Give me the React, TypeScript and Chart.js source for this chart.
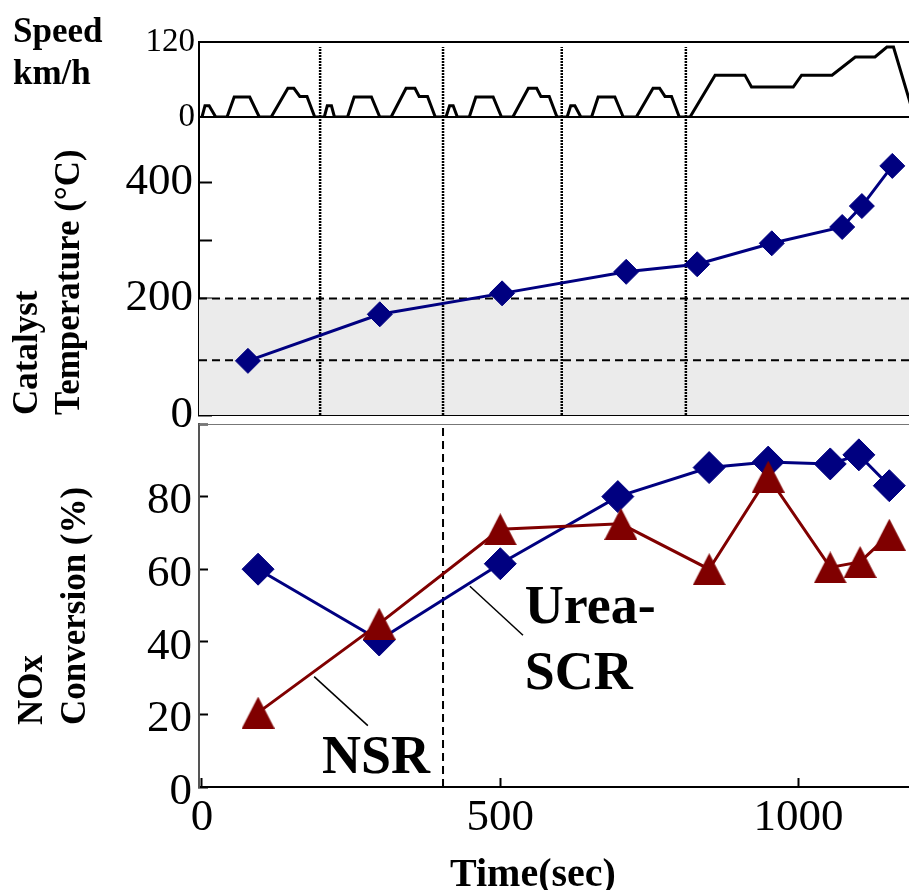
import React, { useEffect, useRef } from 'react';
import { Chart, registerables } from 'chart.js';

Chart.register(...registerables);

// ---------- data ----------
const X_MIN = -5;
const X_MAX = 1185;

// vehicle speed trace (time s, speed km/h)
const speedTime = [
  0, 5, 12, 23, 42, 54, 80, 96, 116, 144, 154, 164, 176, 189,
  205, 210, 217, 222, 244, 255, 284, 298, 317, 342, 357, 364, 378, 391,
  409, 415, 421, 428, 448, 459, 488, 502, 521, 547, 561, 568, 582, 595,
  612, 618, 625, 635, 653, 664, 692, 706, 728, 756, 767, 776, 787, 800,
  818, 860, 910, 921, 991, 1005, 1056, 1095, 1128, 1148, 1159, 1194,
];
const speedKmh = [
  0, 18, 18, 0, 0, 32, 32, 0, 0, 46, 46, 33, 33, 0,
  0, 18, 18, 0, 0, 32, 32, 0, 0, 46, 46, 33, 33, 0,
  0, 18, 18, 0, 0, 32, 32, 0, 0, 46, 46, 33, 33, 0,
  0, 18, 18, 0, 0, 32, 32, 0, 0, 46, 46, 33, 33, 0,
  0, 67, 67, 48, 48, 67, 67, 96, 96, 112, 112, 0,
];
const speedTicks = [0, 120];
const cycleBoundaries = [198, 404, 603, 811];
const boundaryTopSpeed = 112;

// catalyst temperature
const tempTime = [77, 298, 503, 711, 830, 955, 1073, 1106, 1157];
const tempC = [93, 173, 209, 246, 259, 295, 323, 359, 428];
const tempTicks = [0, 100, 200, 300, 400];
const tempLabels = [0, 200, 400];
const tempWindowUpper = 200;
const tempWindowLower = 94;

// NOx conversion
const scrTime = [94, 297, 500, 697, 850, 949, 1053, 1101, 1152];
const scrConv = [60, 40.5, 61.5, 80, 88, 89.5, 89, 91.5, 83];
const nsrTime = [94, 297, 500, 702, 850, 949, 1053, 1103, 1152];
const nsrConv = [20.5, 45, 71, 72.5, 60, 85.5, 60.5, 62, 69.5];
const noxTicks = [0, 10, 20, 30, 40, 50, 60, 70, 80, 90, 100];
const noxLabels = [0, 20, 40, 60, 80];
const timeTicks = [0, 500, 1000];
const noxDividerTime = 404;

// annotations (data coordinates of the NOx panel)
const nsrLeaderTime = [188, 278];
const nsrLeaderConv = [30.4, 16.9];
const scrLeaderTime = [449, 538];
const scrLeaderConv = [55.3, 41.8];
const annTexts = ['NSR', 'Urea-', 'SCR'];
const annTime = [201, 541, 541];
const annConv = [3.9, 45.3, 27];

// ---------- style ----------
const W = 909;
const H = 890;
const FONT = '"Liberation Serif", "Times New Roman", serif';
const NAVY = '#000080';
const MAROON = '#800000';
const AXIS_W = 199;

type TextItem = {
  text: string;
  x: number;
  y: number;
  font: string;
  rotate?: number;
  data?: boolean;
};

function makeTextPlugin(id: string, items: TextItem[]) {
  return {
    id,
    afterDraw(chart: any) {
      const ctx = chart.ctx;
      for (const it of items) {
        ctx.save();
        ctx.font = it.font;
        ctx.fillStyle = '#000';
        ctx.textAlign = 'left';
        ctx.textBaseline = 'alphabetic';
        const x = it.data ? chart.scales.x.getPixelForValue(it.x) : it.x;
        const y = it.data ? chart.scales.y.getPixelForValue(it.y) : it.y;
        ctx.translate(x, y);
        if (it.rotate) ctx.rotate(it.rotate);
        ctx.fillText(it.text, 0, 0);
        ctx.restore();
      }
    },
  };
}

function triangleImage(color: string, w: number, h: number) {
  const c = document.createElement('canvas');
  c.width = w;
  c.height = h;
  const g = c.getContext('2d') as CanvasRenderingContext2D;
  g.fillStyle = color;
  g.beginPath();
  g.moveTo(w / 2, 0);
  g.lineTo(w, h);
  g.lineTo(0, h);
  g.closePath();
  g.fill();
  return c;
}

const pts = (xs: number[], ys: number[]) => xs.map((x, i) => ({ x, y: ys[i] }));
const hLine = (y: number) => [{ x: X_MIN, y }, { x: X_MAX, y }];
const vLine = (x: number, y0: number, y1: number) => [{ x, y: y0 }, { x, y: y1 }];

const baseOptions = (top: number, bottom: number) => ({
  animation: false as const,
  responsive: false,
  maintainAspectRatio: false,
  layout: { autoPadding: false, padding: { left: 0, right: 0, top, bottom } },
  plugins: { legend: { display: false }, tooltip: { enabled: false }, title: { display: false } },
  elements: { line: { tension: 0 } },
});

const boundaryStyle = {
  borderColor: '#000',
  borderWidth: 2.5,
  borderDash: [2, 1],
  pointRadius: 0,
};

function speedConfig(): any {
  return {
    type: 'line',
    data: {
      datasets: [
        { data: pts(speedTime, speedKmh), borderColor: '#000', borderWidth: 3, pointRadius: 0 },
        ...cycleBoundaries.map((t) => ({ data: vLine(t, 0, boundaryTopSpeed), ...boundaryStyle })),
      ],
    },
    options: {
      ...baseOptions(42, H - 117),
      scales: {
        x: { type: 'linear', min: X_MIN, max: X_MAX, display: false },
        y: {
          type: 'linear',
          min: 0,
          max: 120,
          afterBuildTicks: (s: any) => { s.ticks = speedTicks.map((v) => ({ value: v })); },
          afterFit: (s: any) => { s.width = AXIS_W; },
          ticks: { font: { family: FONT, size: 33 }, color: '#000', padding: 4 },
          grid: { color: '#000', lineWidth: 2, drawTicks: false },
          border: { display: true, color: '#000', width: 2 },
        },
      },
    },
    plugins: [
      makeTextPlugin('speedTitle', [
        { text: 'Speed', x: 13, y: 42, font: `bold 35px ${FONT}` },
        { text: 'km/h', x: 13, y: 84, font: `bold 35px ${FONT}` },
      ]),
    ],
  };
}

function tempConfig(): any {
  return {
    type: 'line',
    data: {
      datasets: [
        {
          data: pts(tempTime, tempC),
          borderColor: NAVY,
          backgroundColor: NAVY,
          borderWidth: 3,
          pointStyle: 'rectRot',
          pointRadius: 12.5,
          pointBorderWidth: 1,
          pointBorderColor: NAVY,
        },
        { data: hLine(tempWindowUpper), borderColor: '#000', borderWidth: 2, borderDash: [8, 5], pointRadius: 0 },
        { data: hLine(tempWindowLower), borderColor: '#000', borderWidth: 2, borderDash: [8, 5], pointRadius: 0 },
        ...cycleBoundaries.map((t) => ({ data: vLine(t, 0, 512), ...boundaryStyle })),
        {
          data: hLine(tempWindowUpper),
          borderColor: 'rgba(0,0,0,0)',
          borderWidth: 1,
          backgroundColor: '#ebebeb',
          fill: 'origin',
          pointRadius: 0,
        },
      ],
    },
    options: {
      ...baseOptions(117, H - 415),
      scales: {
        x: {
          type: 'linear',
          min: X_MIN,
          max: X_MAX,
          afterFit: (s: any) => { s.height = 0; },
          ticks: { display: false },
          grid: { drawOnChartArea: false, drawTicks: false },
          border: { display: true, color: '#000', width: 2 },
        },
        y: {
          type: 'linear',
          min: 0,
          max: 512,
          afterBuildTicks: (s: any) => { s.ticks = tempTicks.map((v) => ({ value: v })); },
          afterFit: (s: any) => { s.width = AXIS_W; },
          ticks: {
            font: { family: FONT, size: 45 },
            color: '#000',
            padding: 19,
            callback: (v: any) => (tempLabels.includes(Number(v)) ? String(v) : ''),
          },
          grid: { drawOnChartArea: false, tickLength: -13, tickColor: '#000', tickWidth: 2 },
          border: { display: true, color: '#000', width: 2 },
          title: {
            display: true,
            text: ['Catalyst', 'Temperature (°C)'],
            align: 'start',
            color: '#000',
            font: { family: FONT, size: 35, weight: 'bold' },
            padding: { top: 7, bottom: 0 },
          },
        },
      },
    },
  };
}

function noxConfig(): any {
  const tri = triangleImage(MAROON, 33, 32);
  return {
    type: 'line',
    data: {
      datasets: [
        {
          data: pts(nsrTime, nsrConv),
          borderColor: MAROON,
          backgroundColor: MAROON,
          borderWidth: 3,
          pointStyle: tri,
          pointRadius: 16,
        },
        {
          data: pts(scrTime, scrConv),
          borderColor: NAVY,
          backgroundColor: NAVY,
          borderWidth: 3,
          pointStyle: 'rectRot',
          pointRadius: 16,
          pointBorderWidth: 1,
          pointBorderColor: NAVY,
        },
        { data: vLine(noxDividerTime, 0, 100), borderColor: '#000', borderWidth: 2, borderDash: [8, 5], pointRadius: 0 },
        { data: hLine(100), borderColor: '#777', borderWidth: 2, pointRadius: 0 },
        { data: pts(nsrLeaderTime, nsrLeaderConv), borderColor: '#000', borderWidth: 1.5, pointRadius: 0 },
        { data: pts(scrLeaderTime, scrLeaderConv), borderColor: '#000', borderWidth: 1.5, pointRadius: 0 },
      ],
    },
    options: {
      ...baseOptions(424, 0),
      scales: {
        x: {
          type: 'linear',
          min: X_MIN,
          max: X_MAX,
          afterBuildTicks: (s: any) => { s.ticks = timeTicks.map((v) => ({ value: v })); },
          afterFit: (s: any) => { s.height = 103; },
          ticks: {
            font: { family: FONT, size: 45 },
            color: '#000',
            padding: 13,
            maxRotation: 0,
            callback: (v: any) => String(v),
          },
          grid: { drawOnChartArea: false, tickLength: -9, tickColor: '#000', tickWidth: 2 },
          border: { display: true, color: '#000', width: 2 },
        },
        y: {
          type: 'linear',
          min: 0,
          max: 100,
          afterBuildTicks: (s: any) => { s.ticks = noxTicks.map((v) => ({ value: v })); },
          afterFit: (s: any) => { s.width = AXIS_W; },
          ticks: {
            font: { family: FONT, size: 45 },
            color: '#000',
            padding: 16,
            labelOffset: 5,
            callback: (v: any) => (noxLabels.includes(Number(v)) ? String(v) : ''),
          },
          grid: { drawOnChartArea: false, tickLength: -9, tickColor: '#000', tickWidth: 2 },
          border: { display: true, color: '#555', width: 2 },
        },
      },
    },
    plugins: [
      makeTextPlugin('noxText', [
        { text: 'NOx', x: 42, y: 725, rotate: -Math.PI / 2, font: `bold 35px ${FONT}` },
        { text: 'Conversion (%)', x: 85, y: 725, rotate: -Math.PI / 2, font: `bold 35px ${FONT}` },
        { text: 'Time(sec)', x: 450, y: 886, font: `bold 40px ${FONT}` },
        ...annTexts.map((t, i) => ({
          text: t,
          x: annTime[i],
          y: annConv[i],
          data: true,
          font: `bold 54px ${FONT}`,
        })),
      ]),
    ],
  };
}

export default function App() {
  const r1 = useRef<HTMLCanvasElement>(null);
  const r2 = useRef<HTMLCanvasElement>(null);
  const r3 = useRef<HTMLCanvasElement>(null);

  useEffect(() => {
    const charts = [
      new Chart(r1.current as HTMLCanvasElement, speedConfig()),
      new Chart(r2.current as HTMLCanvasElement, tempConfig()),
      new Chart(r3.current as HTMLCanvasElement, noxConfig()),
    ];
    return () => charts.forEach((c) => c.destroy());
  }, []);

  const cs: React.CSSProperties = { position: 'absolute', left: 0, top: 0, width: W, height: H };
  return (
    <div style={{ position: 'absolute', left: 0, top: 0, width: W, height: H, overflow: 'hidden', background: '#fff' }}>
      <canvas ref={r1} width={W} height={H} style={cs} />
      <canvas ref={r2} width={W} height={H} style={cs} />
      <canvas ref={r3} width={W} height={H} style={cs} />
    </div>
  );
}
